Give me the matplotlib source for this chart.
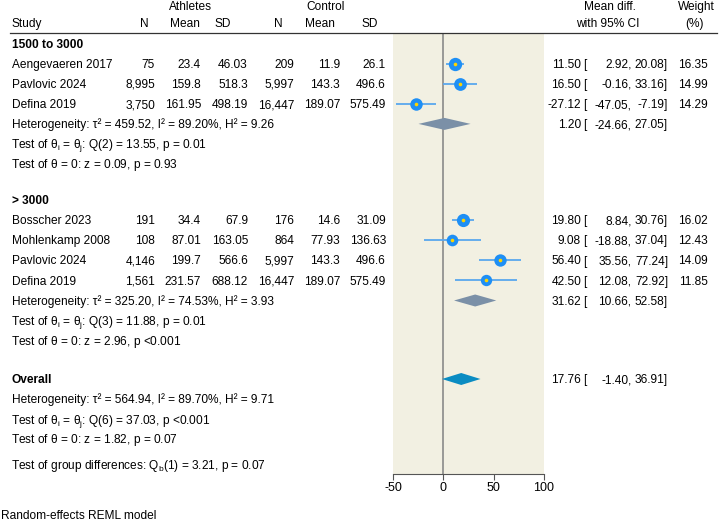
import matplotlib.pyplot as plt
import numpy as np

plt.rcParams['font.family'] = ['Liberation Sans', 'DejaVu Sans']
plt.rcParams['mathtext.fontset'] = 'custom'
plt.rcParams['mathtext.rm'] = 'Liberation Sans'
plt.rcParams['mathtext.it'] = 'Liberation Sans:italic'
fs = 8.6
bl = 4.2  # baseline offset from row centre, in pixels

# studies, group 1 then group 2
studies = ['Aengevaeren 2017', 'Pavlovic 2024', 'Defina 2019',
           'Bosscher 2023', 'Mohlenkamp 2008', 'Pavlovic 2024', 'Defina 2019']
group = [0, 0, 0, 1, 1, 1, 1]
ath_n = [75, 8995, 3750, 191, 108, 4146, 1561]
ath_mean = [23.4, 159.8, 161.95, 34.4, 87.01, 199.7, 231.57]
ath_sd = [46.03, 518.3, 498.19, 67.9, 163.05, 566.6, 688.12]
con_n = [209, 5997, 16447, 176, 864, 5997, 16447]
con_mean = [11.9, 143.3, 189.07, 14.6, 77.93, 143.3, 189.07]
con_sd = [26.1, 496.6, 575.49, 31.09, 136.63, 496.6, 575.49]
est = [11.50, 16.50, -27.12, 19.80, 9.08, 56.40, 42.50]
lo = [2.92, -0.16, -47.05, 8.84, -18.88, 35.56, 12.08]
hi = [20.08, 33.16, -7.19, 30.76, 37.04, 77.24, 72.92]
weight = [16.35, 14.99, 14.29, 16.02, 12.43, 14.09, 11.85]

group_names = ['1500 to 3000', '> 3000']
sub_est = [1.20, 31.62]
sub_lo = [-24.66, 10.66]
sub_hi = [27.05, 52.58]
sub_het = [r'Heterogeneity: τ² = 459.52, I² = 89.20%, H² = 9.26',
           r'Heterogeneity: τ² = 325.20, I² = 74.53%, H² = 3.93']
sub_q = [r'Test of $\mathrm{\theta_{i}}$ = $\mathrm{\theta_{j}}$: Q(2) = 13.55, p = 0.01',
         r'Test of $\mathrm{\theta_{i}}$ = $\mathrm{\theta_{j}}$: Q(3) = 11.88, p = 0.01']
sub_z = [r'Test of $\mathrm{\theta}$ = 0: z = 0.09, p = 0.93',
         r'Test of $\mathrm{\theta}$ = 0: z = 2.96, p <0.001']

ov_est, ov_lo, ov_hi = 17.76, -1.40, 36.91
ov_het = r'Heterogeneity: τ² = 564.94, I² = 89.70%, H² = 9.71'
ov_q = r'Test of $\mathrm{\theta_{i}}$ = $\mathrm{\theta_{j}}$: Q(6) = 37.03, p <0.001'
ov_z = r'Test of $\mathrm{\theta}$ = 0: z = 1.82, p = 0.07'
grp_diff = r'Test of group differences: $\mathrm{Q_{b}}$(1) = 3.21, p = 0.07'

xticks = [-50, 0, 50, 100]

# row layout (pixel rows)
step = 20.1
group_top = [43.5, 200.0]
ov_y = 379.0

fig = plt.figure(figsize=(7.19, 5.22), dpi=100)
axf = fig.add_axes([393 / 719, (522 - 474) / 522, 151 / 719, (474 - 32.5) / 522])
axf.set_facecolor('#f2f0e2')
axf.set_xlim(-50, 100)
axf.set_ylim(474, 32.5)
for s in ['top', 'left', 'right']:
    axf.spines[s].set_visible(False)
axf.spines['bottom'].set_color('#555555')
axf.set_yticks([])
axf.set_xticks(xticks)
axf.set_xticklabels([str(t) for t in xticks], fontsize=fs + 0.4)
axf.tick_params(axis='x', length=4, color='#555555', pad=2)
axf.axvline(0, color='#8a8a8a', lw=1.2, zorder=1)

ax = fig.add_axes([0, 0, 1, 1])
ax.set_xlim(0, 719)
ax.set_ylim(522, 0)
ax.axis('off')
ax.patch.set_alpha(0)


def txt(x, y, s, ha='left', **kw):
    ax.text(x, y + bl, s, ha=ha, va='baseline', fontsize=fs, **kw)


# headers
txt(190, 6, 'Athletes', ha='center')
txt(326, 6, 'Control', ha='center')
txt(610, 6, 'Mean diff.', ha='center')
txt(696, 6, 'Weight', ha='center')
txt(12, 23, 'Study')
for x, t in [(144, 'N'), (185, 'Mean'), (223, 'SD'), (278, 'N'), (320, 'Mean'), (370, 'SD')]:
    txt(x, 23, t, ha='center')
txt(608, 23, 'with 95% CI', ha='center')
txt(695, 23, '(%)', ha='center')
ax.plot([10, 717], [32.5, 32.5], color='#333333', lw=0.9)

cols = [155, 201, 248, 294, 340, 386]


def ci_text(y, e, l, h, w=None):
    txt(581, y, f'{e:.2f}', ha='right')
    txt(583, y, '[')
    txt(631.5, y, f'{l:.2f},', ha='right')
    txt(668, y, f'{h:.2f}]', ha='right')
    if w is not None:
        txt(708, y, f'{w:.2f}', ha='right')


def diamond(y, e, l, h, color):
    axf.fill([l, e, h, e], [y, y - 6, y, y + 6], color=color, lw=0, zorder=3)


for g in range(2):
    y0 = group_top[g]
    txt(12, y0, group_names[g], fontweight='bold')
    idx = [i for i in range(len(studies)) if group[i] == g]
    for k, i in enumerate(idx):
        y = y0 + step * (k + 1)
        txt(12, y, studies[i])
        vals = [f'{ath_n[i]:,}', str(ath_mean[i]), str(ath_sd[i]),
                f'{con_n[i]:,}', str(con_mean[i]), str(con_sd[i])]
        for x, v in zip(cols, vals):
            txt(x, y, v, ha='right')
        ci_text(y, est[i], lo[i], hi[i], weight[i])
        axf.hlines(y, lo[i], hi[i], color='#5aa7ee', lw=1.3, zorder=2)
        axf.plot(est[i], y, 'o', ms=9.6 * np.sqrt(weight[i] / 16.35),
                 color='#1e8ff5', mec='none', zorder=4)
        axf.plot(est[i], y, 'o', ms=2.6, color='#ffd400', mec='none', zorder=5)
    n = len(idx)
    yh = y0 + step * (n + 1)
    txt(12, yh, sub_het[g])
    ci_text(yh, sub_est[g], sub_lo[g], sub_hi[g])
    diamond(yh, sub_est[g], sub_lo[g], sub_hi[g], '#7b90a7')
    txt(11, yh + step, sub_q[g])
    txt(11, yh + 2 * step, sub_z[g])

txt(12, ov_y, 'Overall', fontweight='bold')
ci_text(ov_y, ov_est, ov_lo, ov_hi)
diamond(ov_y, ov_est, ov_lo, ov_hi, '#0b8cc2')
txt(12, ov_y + step, ov_het)
txt(11, ov_y + 2 * step, ov_q)
txt(11, ov_y + 3 * step, ov_z)
txt(11, 465, grp_diff)
txt(1, 514.5, 'Random-effects REML model')

fig.savefig('out.png', dpi=100)
